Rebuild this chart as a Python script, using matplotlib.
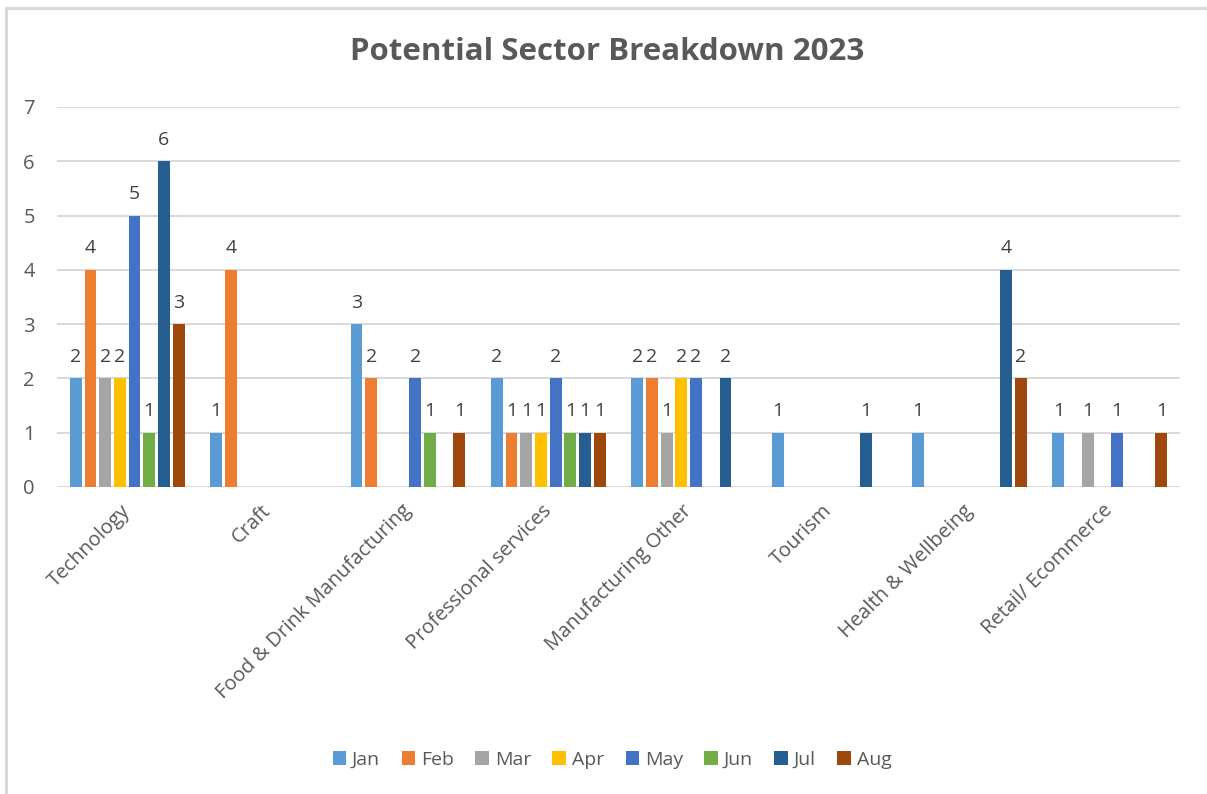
import matplotlib
matplotlib.use("Agg")
import matplotlib.pyplot as plt
from matplotlib.lines import Line2D
from matplotlib.patches import Patch
import numpy as np

plt.rcParams['font.family'] = ['Open Sans', 'DejaVu Sans']

categories = ["Technology", "Craft", "Food & Drink Manufacturing", "Professional services",
              "Manufacturing Other", "Tourism", "Health & Wellbeing", "Retail/ Ecommerce"]
months = ["Jan", "Feb", "Mar", "Apr", "May", "Jun", "Jul", "Aug"]
jan = [2, 1, 3, 2, 2, 1, 1, 1]
feb = [4, 4, 2, 1, 2, 0, 0, 0]
mar = [2, 0, 0, 1, 1, 0, 0, 1]
apr = [2, 0, 0, 1, 2, 0, 0, 0]
may = [5, 0, 2, 2, 2, 0, 0, 1]
jun = [1, 0, 1, 1, 0, 0, 0, 0]
jul = [6, 0, 0, 1, 2, 1, 4, 0]
aug = [3, 0, 1, 1, 0, 0, 2, 1]
series = [jan, feb, mar, apr, may, jun, jul, aug]
colors = ["#5B9BD5", "#ED7D31", "#A5A5A5", "#FFC000", "#4472C4", "#70AD47", "#255E91", "#9E480E"]

W, H = 1207, 794
fig = plt.figure(figsize=(W / 100, H / 100), dpi=100)
ax = fig.add_axes([57 / W, 1 - 487 / H, (1180 - 57) / W, (487 - 107) / H])

n = len(series)
slot = 0.1047
x = np.arange(len(categories))
text_col = "#595959"
for i, (vals, c) in enumerate(zip(series, colors)):
    pos = x - (n / 2 - 0.5) * slot + i * slot
    bars = ax.bar(pos, vals, width=slot * 0.8, color=c, zorder=3)
    for b, v in zip(bars, vals):
        if v > 0:
            ax.annotate(str(v), (b.get_x() + b.get_width() / 2, v), xytext=(0, 9),
                        textcoords="offset points", ha="center", va="bottom",
                        fontsize=14, color="#404040")

ax.set_xlim(-0.5, len(categories) - 0.5)
ax.set_ylim(0, 7)
ax.set_yticks(range(0, 8))
ax.yaxis.grid(True, color="#D9D9D9", linewidth=1.4, zorder=0)
ax.set_axisbelow(True)
for s in ax.spines.values():
    s.set_visible(False)
ax.tick_params(axis="y", length=0, pad=16, labelsize=14.5, labelcolor=text_col)
ax.tick_params(axis="x", length=0, pad=15, labelsize=14.5, labelcolor=text_col)
ax.set_xticks(x)
ax.set_xticklabels(categories, rotation=45, ha="right", va="center", rotation_mode="anchor")

fig.text(607 / W, 1 - 52 / H, "Potential Sector Breakdown 2023", ha="center", va="center",
         fontsize=22.5, fontweight="bold", color=text_col)

handles = [Patch(facecolor=c, edgecolor="none") for c in colors]
fig.legend(handles, months, loc="center", bbox_to_anchor=(612 / W, 1 - 760 / H), ncol=8,
           frameon=False, fontsize=14, handlelength=0.7, handleheight=0.7,
           handletextpad=0.3, columnspacing=1.1, labelcolor=text_col)

# chart frame (top and left edges visible)
fig.add_artist(Line2D([6 / W, 1], [1 - 8 / H, 1 - 8 / H], color="#D9D9D9", linewidth=2.2))
fig.add_artist(Line2D([6 / W, 6 / W], [1 - 8 / H, 0], color="#D9D9D9", linewidth=2.2))

fig.savefig("out.png", dpi=100, facecolor="white")
